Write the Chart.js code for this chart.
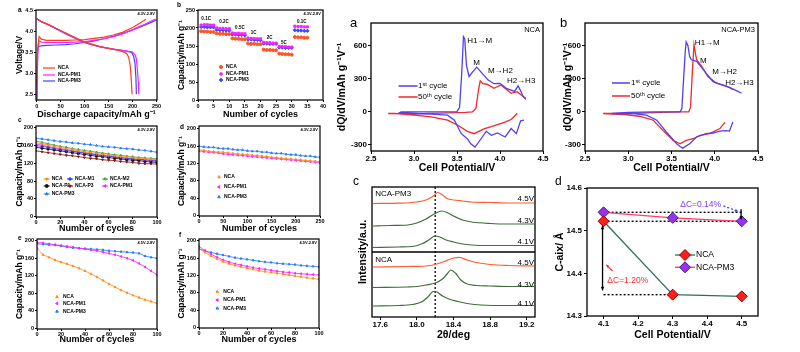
<!DOCTYPE html>
<html>
<head>
<meta charset="utf-8">
<script src="https://cdn.jsdelivr.net/npm/chart.js@4.4.0/dist/chart.umd.min.js"></script>
<style>
  body { margin: 0; background: #fff; width: 800px; height: 352px; overflow: hidden; position: relative; }
  canvas { position: absolute; }
</style>
</head>
<body>
<script>
// ---------- left a: charge / discharge curves ----------
const aCapTicks = [0, 50, 100, 150, 200, 250];
const aVoltTicks = [2.5, 3.0, 3.5, 4.0, 4.5];
const aVoltLabels = ['2.5', '3.0', '3.5', '4.0', '4.5'];
const ncaChargeCap = [0.5, 2, 5, 10, 20, 40, 60, 80, 100, 120, 140, 160, 180, 200, 215, 228];
const ncaChargeV = [2.75, 3.6, 3.88, 3.82, 3.79, 3.79, 3.79, 3.8, 3.81, 3.84, 3.87, 3.92, 3.99, 4.1, 4.2, 4.3];
const pm1ChargeCap = [0.5, 2, 5, 10, 20, 40, 60, 80, 100, 120, 140, 160, 180, 200, 220, 240, 248];
const pm1ChargeV = [2.4, 3.5, 3.78, 3.75, 3.74, 3.74, 3.74, 3.75, 3.76, 3.79, 3.83, 3.88, 3.95, 4.05, 4.15, 4.26, 4.3];
const pm3ChargeCap = [0.5, 2, 5, 10, 20, 40, 60, 80, 100, 120, 140, 160, 180, 200, 220, 240, 250];
const pm3ChargeV = [2.35, 3.6, 3.65, 3.66, 3.67, 3.68, 3.69, 3.71, 3.74, 3.78, 3.83, 3.89, 3.96, 4.04, 4.13, 4.23, 4.28];
const ncaDisCap = [0, 10, 28, 45, 62, 80, 97, 115, 131, 150, 166, 180, 188, 192, 195, 197, 199];
const ncaDisV = [4.31, 4.24, 4.15, 4.05, 3.96, 3.86, 3.77, 3.70, 3.64, 3.60, 3.56, 3.52, 3.47, 3.38, 3.2, 2.9, 2.5];
const pm1DisCap = [0, 10, 28, 45, 62, 80, 97, 115, 131, 150, 166, 185, 200, 205, 208, 210, 212, 213];
const pm1DisV = [4.31, 4.24, 4.15, 4.05, 3.95, 3.85, 3.76, 3.69, 3.64, 3.60, 3.57, 3.54, 3.51, 3.45, 3.35, 3.1, 2.8, 2.5];
const pm3DisCap = [0, 10, 28, 45, 62, 80, 97, 115, 131, 150, 166, 185, 198, 202, 205, 207, 208];
const pm3DisV = [4.31, 4.24, 4.14, 4.04, 3.94, 3.84, 3.75, 3.69, 3.64, 3.60, 3.57, 3.54, 3.5, 3.42, 3.25, 2.9, 2.5];

// ---------- left b: rate capability ----------
const rateCycles = [1,2,3,4,5,6,7,8,9,10,11,12,13,14,15,16,17,18,19,20,21,22,23,24,25,26,27,28,29,30,31,32,33,34,35];
const rateNca = [191,190,190,189,189, 185,184,184,183,183, 171,170,170,169,169, 157,156,156,155,155, 140,139,139,138,138, 129,128,127,127,126, 175,174,174,173,173];
const ratePm1 = [208,209,209,208,208, 200,199,199,198,198, 186,185,185,184,184, 172,171,171,170,170, 160,159,159,158,158, 149,148,148,147,147, 205,204,204,203,203];
const ratePm3 = [203,203,202,202,202, 195,194,194,193,193, 182,182,181,181,180, 168,168,167,167,166, 157,157,156,156,156, 146,146,145,145,145, 194,193,193,192,192];
const rateNames = ['0.1C', '0.2C', '0.5C', '1C', '2C', '5C', '0.1C'];
const rateNameX = [2.6, 8.3, 13.4, 17.8, 22.9, 27.5, 33.2];
const rateNameY = [227, 217, 201, 187, 174, 160, 217];
const bCycleTicks = [0, 5, 10, 15, 20, 25, 30, 35, 40];
const bCapTicks = [0, 50, 100, 150, 200, 250];

// ---------- left c-f: cycling ----------
const capTicks = [0, 40, 80, 120, 160, 200];
const cyc100Ticks = [0, 20, 40, 60, 80, 100];
const cyc250Ticks = [0, 50, 100, 150, 200, 250];
const cycles5 = [0,5,10,15,20,25,30,35,40,45,50,55,60,65,70,75,80,85,90,95,100];
const cycles10 = [0,10,20,30,40,50,60,70,80,90,100,110,120,130,140,150,160,170,180,190,200,210,220,230,240,250];
const cNca = [166,164,161,158,156,153,151,148,146,144,142,140,138,137,135,134,133,131,130,129,128];
const cM1 = [160,158,156,153,151,149,147,145,143,141,139,137,136,134,133,131,130,129,128,127,126];
const cM2 = [170,167,164,161,158,156,153,151,149,147,145,143,141,139,138,136,135,133,132,131,130];
const cP1 = [156,154,152,150,148,146,144,142,140,138,136,135,133,131,130,128,127,126,124,123,122];
const cP3 = [148,146,144,142,140,138,137,135,133,131,130,128,127,126,124,123,122,120,119,119,118];
const cPm1 = [163,161,158,155,153,151,148,146,144,142,140,138,136,134,133,131,129,128,127,126,124];
const cPm3 = [176,175,173,171,169,168,166,165,163,162,160,158,157,156,154,153,152,150,149,147,145];
const dNca = [151,150,148,147,146,146,144,143,142,141,140,139,138,137,136,134,133,132,131,130,129,128,127,126,125,124];
const dPm1 = [149,147,146,145,144,142,141,140,139,138,137,136,135,134,133,132,131,130,129,128,127,126,125,124,123,122];
const dPm3 = [160,158,157,157,155,154,154,152,151,151,149,148,148,146,146,144,143,143,141,140,140,138,137,137,135,134];
const eNca = [183,168,162,156,151,147,142,137,131,124,117,109,101,94,87,81,75,70,65,61,57];
const ePm1 = [196,195,193,191,189,187,185,183,181,179,177,174,171,168,164,160,155,148,140,131,122];
const ePm3 = [193,192,191,190,188,186,184,183,182,181,180,179,177,176,175,174,173,171,165,162,160];
const fNca = [182,173,165,158,152,147,143,140,137,134,131,129,127,125,123,121,119,117,115,113,111];
const fPm1 = [187,177,169,162,156,151,147,144,141,138,136,134,132,130,128,127,125,124,123,122,121];
const fPm3 = [181,177,173,170,167,164,161,159,157,155,153,151,150,148,147,146,145,143,142,141,140];

// ---------- right a/b: dQ/dV ----------
const dqTicks = [-300, 0, 300, 600];
const potTicks = [2.5, 3.0, 3.5, 4.0, 4.5];
const potLabels = ['2.5', '3.0', '3.5', '4.0', '4.5'];
const ncaFirstV = [4.28,4.24,4.19,4.13,4.06,3.97,3.90,3.84,3.78,3.71,3.66,3.62,3.55,3.47,3.39,3.20,3.00,2.83, 2.85,3.20,3.50,3.53,3.555,3.575,3.59,3.61,3.64,3.68,3.73,3.78,3.86,3.93,4.00,4.08,4.17,4.21,4.24,4.27,4.30];
const ncaFirstDq = [-76,-82,-198,-152,-228,-192,-213,-177,-244,-320,-290,-244,-198,-76,-30,-21,-15,-9, 0,0,2,40,350,680,660,420,320,360,405,360,290,255,258,210,185,235,190,137,113];
const ncaFiftiethV = [4.20,4.13,4.05,3.97,3.90,3.82,3.76,3.70,3.62,3.51,3.39,3.20,3.00,2.77,2.70, 2.70,3.00,3.30,3.60,3.68,3.72,3.75,3.77,3.80,3.85,3.93,4.01,4.08,4.13,4.20,4.25,4.30];
const ncaFiftiethDq = [-15,-70,-95,-116,-135,-152,-175,-198,-177,-122,-76,-46,-30,-15,-15, -15,-18,-12,-5,0,30,200,280,255,250,213,244,200,168,183,150,122];
const pm3FirstV = [4.21,4.17,4.12,4.06,3.98,3.90,3.79,3.71,3.63,3.60,3.56,3.44,3.33,3.21,3.06,2.81, 2.81,3.00,3.30,3.60,3.62,3.64,3.66,3.67,3.69,3.71,3.73,3.79,3.85,3.90,3.98,4.08,4.17,4.25,4.31];
const pm3FirstDq = [-91,-174,-170,-174,-192,-198,-228,-289,-329,-315,-289,-183,-76,-30,-15,-15, -15,-5,0,0,30,300,560,634,600,500,472,457,400,350,274,244,222,192,168];
const pm3FiftiethV = [4.12,4.09,4.06,3.94,3.83,3.75,3.67,3.60,3.52,3.40,3.29,3.13,2.94,2.71, 2.71,3.00,3.30,3.60,3.70,3.72,3.74,3.76,3.77,3.79,3.85,3.92,4.02,4.13,4.21];
const pm3FiftiethDq = [-97,-120,-152,-198,-213,-244,-259,-289,-259,-168,-76,-40,-24,-15, -15,-15,-8,0,0,40,350,609,560,472,411,320,259,235,204];

// ---------- right c: XRD (003) peak, stacked, arbitrary units ----------
const thetaTicks = [17.6, 18.0, 18.4, 18.8, 19.2];
const pm345X = [17.52,17.8,18.0,18.1,18.18,18.23,18.28,18.33,18.4,18.5,18.6,18.8,19.0,19.28];
const pm345Y = [113.5,113.8,115,117,121,124.5,122,118.5,117,116,115,114.5,114,114];
const pm343X = [17.52,17.7,17.9,18.0,18.1,18.2,18.27,18.33,18.4,18.5,18.6,18.8,19.0,19.28];
const pm343Y = [91,91.5,92,94,98,103.5,106,104.5,101,97,95,93.5,93,93];
const pm341X = [17.52,17.8,17.95,18.05,18.13,18.2,18.25,18.32,18.4,18.5,18.6,18.8,19.0,19.28];
const pm341Y = [69.5,70,70.5,73,77,81,80,77,75,73,72,71.5,71.5,71.5];
const nca45X = [17.52,17.9,18.1,18.2,18.3,18.4,18.46,18.55,18.65,18.8,19.0,19.28];
const nca45Y = [50,50.5,51,52.5,55.5,59,59.7,57,54.5,52.5,51.5,51];
const nca43X = [17.52,17.9,18.0,18.1,18.2,18.28,18.33,18.37,18.42,18.48,18.55,18.65,18.8,19.0,19.28];
const nca43Y = [29.5,30,30.5,32,34,38,43,47,44,37,33,31.5,31,30.5,30.5];
const nca41X = [17.52,17.8,17.95,18.05,18.12,18.18,18.22,18.28,18.35,18.45,18.55,18.7,19.0,19.28];
const nca41Y = [11,11.5,12.5,15,20,25.5,25,21,18,15.5,13.5,12,11.5,11.5];
const voltNames = ['4.5V', '4.3V', '4.1V', '4.5V', '4.3V', '4.1V'];
const voltNameY = [118, 96, 75, 54, 32, 13];

// ---------- right d: c-axis ----------
const dPot = [4.1, 4.3, 4.5];
const dPotTicks = [4.1, 4.2, 4.3, 4.4, 4.5];
const cAxisTicks = [14.3, 14.4, 14.5, 14.6];
const cAxisNca = [14.522, 14.35, 14.346];
const cAxisPm3 = [14.543, 14.530, 14.522];

// ---------- helpers ----------
const FONT = "'Liberation Sans', Arial, sans-serif";
Chart.defaults.font.family = FONT;
Chart.defaults.color = '#000';
const fnt = (w, s) => w + ' ' + s + 'px ' + FONT;
const pts = (xs, ys) => xs.map((x, i) => ({x: x, y: ys[i]}));
const str = a => a.map(v => String(v));
const fix1 = a => a.map(v => v.toFixed(1));

function series(label, xs, ys, color, extra) {
  return Object.assign({
    label: label, data: pts(xs, ys), borderColor: color, backgroundColor: color,
    pointBackgroundColor: color, pointBorderColor: color, borderWidth: 1,
    pointRadius: 0, tension: 0
  }, extra || {});
}

const notesPlugin = {
  id: 'notes',
  afterDatasetsDraw(chart, args, o) {
    const ctx = chart.ctx, a = chart.chartArea;
    const X = v => chart.scales.x.getPixelForValue(v), Y = v => chart.scales.y.getPixelForValue(v);
    ctx.save();
    ctx.strokeStyle = '#000';
    ctx.lineWidth = o.frame || 1;
    ctx.strokeRect(a.left, a.top, a.right - a.left, a.bottom - a.top);

    (o.arrows || []).forEach(ar => {
      const x1 = X(ar.x1), y1 = Y(ar.y1), x2 = X(ar.x2), y2 = Y(ar.y2);
      ctx.strokeStyle = ar.color; ctx.fillStyle = ar.color; ctx.lineWidth = ar.width || 1;
      ctx.setLineDash(ar.dash || []);
      ctx.beginPath(); ctx.moveTo(x1, y1); ctx.lineTo(x2, y2); ctx.stroke();
      ctx.setLineDash([]);
      const head = (xa, ya, xb, yb) => {
        const ang = Math.atan2(yb - ya, xb - xa), s = ar.head || 4;
        ctx.beginPath();
        ctx.moveTo(xb, yb);
        ctx.lineTo(xb - s * Math.cos(ang - 0.45), yb - s * Math.sin(ang - 0.45));
        ctx.lineTo(xb - s * Math.cos(ang + 0.45), yb - s * Math.sin(ang + 0.45));
        ctx.closePath(); ctx.fill();
      };
      head(x1, y1, x2, y2);
      if (ar.both) head(x2, y2, x1, y1);
    });

    (o.legend || []).forEach(it => {
      const ds = chart.data.datasets[it.ds];
      const x = a.left + it.x, y = a.top + it.y;
      if (it.line) {
        ctx.strokeStyle = ds.borderColor; ctx.lineWidth = it.lw || 1;
        ctx.beginPath(); ctx.moveTo(x - it.line / 2, y); ctx.lineTo(x + it.line / 2, y); ctx.stroke();
      }
      if (it.mark) {
        ctx.fillStyle = ds.pointBackgroundColor; ctx.strokeStyle = ds.pointBorderColor;
        ctx.lineWidth = ds.pointBorderWidth || 1;
        const opt = {pointStyle: ds.pointStyle || 'circle', radius: it.mark, rotation: ds.pointRotation || 0, borderWidth: ds.pointBorderWidth || 1};
        if (Chart.helpers && Chart.helpers.drawPoint) Chart.helpers.drawPoint(ctx, opt, x, y);
        else { ctx.beginPath(); ctx.arc(x, y, it.mark, 0, Math.PI * 2); ctx.fill(); }
      }
      ctx.fillStyle = '#000'; ctx.font = it.font;
      ctx.textAlign = 'left'; ctx.textBaseline = 'middle';
      ctx.fillText(ds.label, x + it.tx, y);
    });

    (o.texts || []).forEach(tx => {
      const x = tx.px ? a.left + tx.x : X(tx.x);
      const y = tx.px ? a.top + tx.y : Y(tx.y);
      ctx.fillStyle = tx.color || '#000'; ctx.font = tx.font;
      ctx.textAlign = tx.align || 'left'; ctx.textBaseline = 'middle';
      ctx.fillText(tx.t, x, y);
    });
    ctx.restore();
  }
};

function makePanel(p) {
  const [cx, cy, cw, ch] = p.canvas;
  const [l, t, r, b] = p.box;
  const cv = document.createElement('canvas');
  cv.width = cw; cv.height = ch;
  cv.style.left = cx + 'px'; cv.style.top = cy + 'px';
  document.body.appendChild(cv);
  const padL = l - cx, padB = cy + ch - b;
  const axis = (ax, horiz) => {
    const lh = ax.titleFont.size * 1.2;
    return {
      type: 'linear', min: ax.min, max: ax.max,
      afterBuildTicks: s => { s.ticks = ax.ticks.map(v => ({value: v})); },
      afterFit: s => { if (horiz) s.height = padB; else s.width = padL; },
      ticks: {
        display: !!ax.labels, autoSkip: false, maxRotation: 0, minRotation: 0,
        padding: ax.tickPad, font: ax.tickFont, color: '#000',
        callback: (v, i) => ax.labels ? ax.labels[i] : ''
      },
      grid: {display: ax.tickLen > 0, drawOnChartArea: false, tickLength: ax.tickLen, color: '#000', lineWidth: 1},
      border: {display: false},
      title: {
        display: true, text: ax.title, color: '#000', font: ax.titleFont,
        padding: horiz ? {top: 0, bottom: cy + ch - ax.titleAt - lh / 2} : {top: ax.titleAt - cx - lh / 2, bottom: 0}
      }
    };
  };
  return new Chart(cv, {
    type: 'line',
    data: {datasets: p.datasets},
    options: {
      responsive: false, animation: false, events: [],
      layout: {autoPadding: false, padding: {left: 0, top: t - cy, right: cx + cw - r, bottom: 0}},
      scales: {x: axis(p.x, true), y: axis(p.y, false)},
      plugins: {legend: {display: false}, tooltip: {enabled: false}, notes: p.notes}
    },
    plugins: [notesPlugin]
  });
}

// ---------- styles ----------
const LT = {tickLen: 2, tickFont: {size: 5.5, weight: 'bold'}};
const LXT = {size: 9, weight: 'bold'};
const LYT = {size: 8.5, weight: 'bold'};
const RT = {tickLen: 3, tickFont: {size: 8, weight: 'bold'}};
const RTT = {size: 10.5, weight: 'bold'};
const letterL = fnt('bold', 6.5), tinyL = fnt('bold', 4), legL = fnt('bold', 5);
const letterR = fnt('normal', 13), labR = fnt('normal', 8);

const red = '#ff3b1f', magenta = '#ff1eff', blue = '#2f4bff';
const orange = '#ff8a1c', skyBlue = '#2378ff';
const blueR = '#5040ee', redR = '#f0282d';
const xrdOrange = '#ff5a30', xrdGreen = '#3f6e3a';
const mk = (style, rot) => ({pointRadius: 1.2, pointStyle: style, pointRotation: rot || 0, borderWidth: 0.8});
const capT = 'Capacity/mAh g\u207B\u00B9';
const cycT = 'Number of cycles';

// ---------- left a ----------
makePanel({
  canvas: [0, 0, 168, 122], box: [36, 10, 157, 100],
  x: Object.assign({min: -1.5, max: 251, ticks: aCapTicks, labels: str(aCapTicks), title: 'Discharge capacity/mAh g\u207B\u00B9', titleAt: 115, tickPad: 1, titleFont: LXT}, LT),
  y: Object.assign({min: 2.36, max: 4.52, ticks: aVoltTicks, labels: aVoltLabels, title: 'Voltage/V', titleAt: 20, tickPad: 1, titleFont: LYT}, LT),
  datasets: [
    series('NCA', ncaChargeCap, ncaChargeV, red, {borderWidth: 1.2}),
    series('NCA', ncaDisCap, ncaDisV, red, {borderWidth: 1.2}),
    series('NCA-PM1', pm1ChargeCap, pm1ChargeV, magenta, {borderWidth: 1.2}),
    series('NCA-PM1', pm1DisCap, pm1DisV, magenta, {borderWidth: 1.2}),
    series('NCA-PM3', pm3ChargeCap, pm3ChargeV, blue, {borderWidth: 1.2}),
    series('NCA-PM3', pm3DisCap, pm3DisV, blue, {borderWidth: 1.2})
  ],
  notes: {
    frame: 1.2,
    legend: [
      {ds: 0, x: 13, y: 58, line: 12, lw: 1.2, tx: 9, font: legL},
      {ds: 2, x: 13, y: 65, line: 12, lw: 1.2, tx: 9, font: legL},
      {ds: 4, x: 13, y: 71, line: 12, lw: 1.2, tx: 9, font: legL}
    ],
    texts: [
      {t: 'a', x: -18, y: 0, px: true, font: letterL},
      {t: '4.3V-2.8V', x: 119, y: 4, px: true, font: tinyL, align: 'right'}
    ]
  }
});

// ---------- left b ----------
const rateNotes = rateNames.map((n, i) => ({t: n, x: rateNameX[i], y: rateNameY[i], font: fnt('bold', 4.5), align: 'center'}));
makePanel({
  canvas: [165, 0, 165, 122], box: [198, 10, 323, 100],
  x: Object.assign({min: 0, max: 40, ticks: bCycleTicks, labels: str(bCycleTicks), title: cycT, titleAt: 115, tickPad: 1, titleFont: LXT}, LT),
  y: Object.assign({min: 0, max: 250, ticks: bCapTicks, labels: str(bCapTicks), title: capT, titleAt: 181.7, tickPad: 1, titleFont: LYT}, LT),
  datasets: [
    series('NCA', rateCycles, rateNca, '#ff5522', {showLine: false, pointRadius: 1.5, pointStyle: 'circle'}),
    series('NCA-PM1', rateCycles, ratePm1, magenta, {showLine: false, pointRadius: 1.5, pointStyle: 'rect'}),
    series('NCA-PM3', rateCycles, ratePm3, blue, {showLine: false, pointRadius: 1.7, pointStyle: 'rectRot'})
  ],
  notes: {
    frame: 1.2,
    legend: [
      {ds: 0, x: 23, y: 57, mark: 1.6, tx: 5, font: legL},
      {ds: 1, x: 23, y: 64, mark: 1.6, tx: 5, font: legL},
      {ds: 2, x: 23, y: 70, mark: 1.8, tx: 5, font: legL}
    ],
    texts: [
      {t: 'b', x: -21, y: -5, px: true, font: letterL},
      {t: '4.3V-2.8V', x: 123, y: 4, px: true, font: tinyL, align: 'right'}
    ].concat(rateNotes)
  }
});

// ---------- left c ----------
makePanel({
  canvas: [0, 116, 168, 120], box: [36, 126, 157, 217],
  x: Object.assign({min: 0, max: 100, ticks: cyc100Ticks, labels: str(cyc100Ticks), title: cycT, titleAt: 229, tickPad: 0, titleFont: LXT}, LT),
  y: Object.assign({min: -1, max: 204, ticks: capTicks, labels: str(capTicks), title: capT, titleAt: 20, tickPad: 1, titleFont: LYT}, LT),
  datasets: [
    series('NCA-PM3', cycles5, cPm3, skyBlue, mk('triangle')),
    series('NCA', cycles5, cNca, '#ff8c00', mk('triangle', 180)),
    series('NCA-M1', cycles5, cM1, '#3c2cff', mk('rectRot')),
    series('NCA-M2', cycles5, cM2, '#3da33d', mk('triangle')),
    series('NCA-P1', cycles5, cP1, '#111111', mk('circle')),
    series('NCA-P3', cycles5, cP3, '#8b1010', mk('triangle', 180)),
    series('NCA-PM1', cycles5, cPm1, magenta, mk('triangle', 270))
  ],
  notes: {
    frame: 1.2,
    legend: [
      {ds: 1, x: 10.7, y: 53, line: 6, mark: 1.5, tx: 5, font: legL},
      {ds: 2, x: 34, y: 53, line: 6, mark: 1.5, tx: 5, font: legL},
      {ds: 3, x: 69, y: 53, line: 6, mark: 1.5, tx: 5, font: legL},
      {ds: 4, x: 10.7, y: 60, line: 6, mark: 1.5, tx: 5, font: legL},
      {ds: 5, x: 34, y: 60, line: 6, mark: 1.5, tx: 5, font: legL},
      {ds: 6, x: 69, y: 60, line: 6, mark: 1.5, tx: 5, font: legL},
      {ds: 0, x: 10.7, y: 68, line: 6, mark: 1.5, tx: 5, font: legL}
    ],
    texts: [
      {t: 'c', x: -18, y: -6, px: true, font: letterL},
      {t: '4.3V-2.8V', x: 119, y: 4, px: true, font: tinyL, align: 'right'}
    ]
  }
});

// ---------- left d ----------
makePanel({
  canvas: [165, 116, 165, 120], box: [199, 126, 320, 216],
  x: Object.assign({min: 0, max: 250, ticks: cyc250Ticks, labels: str(cyc250Ticks), title: cycT, titleAt: 229, tickPad: 0, titleFont: LXT}, LT),
  y: Object.assign({min: -1, max: 206, ticks: capTicks, labels: str(capTicks), title: capT, titleAt: 181.7, tickPad: 1, titleFont: LYT}, LT),
  datasets: [
    series('NCA', cycles10, dNca, orange, mk('triangle')),
    series('NCA-PM1', cycles10, dPm1, magenta, mk('triangle', 270)),
    series('NCA-PM3', cycles10, dPm3, skyBlue, mk('triangle'))
  ],
  notes: {
    frame: 1.2,
    legend: [
      {ds: 0, x: 20, y: 51, mark: 1.5, tx: 5, font: legL},
      {ds: 1, x: 20, y: 61, mark: 1.5, tx: 5, font: legL},
      {ds: 2, x: 20, y: 71, mark: 1.5, tx: 5, font: legL}
    ],
    texts: [
      {t: 'd', x: -19, y: 1, px: true, font: letterL},
      {t: '4.3V-2.8V', x: 119, y: 4, px: true, font: tinyL, align: 'right'}
    ]
  }
});

// ---------- left e ----------
makePanel({
  canvas: [0, 232, 168, 120], box: [37, 239, 157, 329],
  x: Object.assign({min: 0, max: 100, ticks: cyc100Ticks, labels: str(cyc100Ticks), title: cycT, titleAt: 340, tickPad: 0, titleFont: LXT}, LT),
  y: Object.assign({min: -2, max: 204, ticks: capTicks, labels: str(capTicks), title: capT, titleAt: 20, tickPad: 1, titleFont: LYT}, LT),
  datasets: [
    series('NCA', cycles5, eNca, orange, mk('triangle')),
    series('NCA-PM1', cycles5, ePm1, magenta, mk('triangle', 270)),
    series('NCA-PM3', cycles5, ePm3, skyBlue, mk('triangle'))
  ],
  notes: {
    frame: 1.2,
    legend: [
      {ds: 0, x: 20, y: 58, mark: 1.5, tx: 6, font: legL},
      {ds: 1, x: 20, y: 64.5, mark: 1.5, tx: 6, font: legL},
      {ds: 2, x: 20, y: 72.5, mark: 1.5, tx: 6, font: legL}
    ],
    texts: [
      {t: 'e', x: -19, y: -1, px: true, font: letterL},
      {t: '4.5V-2.8V', x: 118, y: 4, px: true, font: tinyL, align: 'right'}
    ]
  }
});

// ---------- left f ----------
makePanel({
  canvas: [165, 232, 165, 120], box: [199, 239, 319, 328],
  x: Object.assign({min: 0, max: 100, ticks: cyc100Ticks, labels: str(cyc100Ticks), title: cycT, titleAt: 340, tickPad: 0, titleFont: LXT}, LT),
  y: Object.assign({min: -1, max: 204, ticks: capTicks, labels: str(capTicks), title: capT, titleAt: 181.7, tickPad: 1, titleFont: LYT}, LT),
  datasets: [
    series('NCA', cycles5, fNca, orange, mk('triangle')),
    series('NCA-PM1', cycles5, fPm1, magenta, mk('triangle', 270)),
    series('NCA-PM3', cycles5, fPm3, skyBlue, mk('triangle'))
  ],
  notes: {
    frame: 1.2,
    legend: [
      {ds: 0, x: 18.3, y: 52.7, mark: 1.5, tx: 6, font: legL},
      {ds: 1, x: 18.3, y: 61, mark: 1.5, tx: 6, font: legL},
      {ds: 2, x: 18.3, y: 69.3, mark: 1.5, tx: 6, font: legL}
    ],
    texts: [
      {t: 'f', x: -20, y: -4, px: true, font: letterL},
      {t: '4.5V-2.8V', x: 118, y: 4, px: true, font: tinyL, align: 'right'}
    ]
  }
});

// ---------- right a ----------
const dqT = 'dQ/dV/mAh g\u207B\u00B9V\u207B\u00B9';
makePanel({
  canvas: [335, 5, 215, 175], box: [371, 23, 543, 151],
  x: Object.assign({min: 2.5, max: 4.5, ticks: potTicks, labels: potLabels, title: 'Cell Potential/V', titleAt: 168, tickPad: 0, titleFont: RTT}, RT),
  y: Object.assign({min: -355, max: 805, ticks: dqTicks, labels: str(dqTicks), title: dqT, titleAt: 342, tickPad: 1, titleFont: RTT}, RT),
  datasets: [
    series('1\u02E2\u1D57 cycle', ncaFirstV, ncaFirstDq, blueR, {borderWidth: 1.3}),
    series('50\u1D57\u02B0 cycle', ncaFiftiethV, ncaFiftiethDq, redR, {borderWidth: 1.3})
  ],
  notes: {
    frame: 1.3,
    legend: [
      {ds: 0, x: 37, y: 63, line: 19, lw: 1.5, tx: 10, font: labR},
      {ds: 1, x: 37, y: 74, line: 19, lw: 1.5, tx: 10, font: labR}
    ],
    texts: [
      {t: 'a', x: -21, y: 0, px: true, font: letterR},
      {t: 'NCA', x: 169, y: 7, px: true, font: fnt('normal', 7.5), align: 'right'},
      {t: 'H1\u2192M', x: 3.62, y: 643, font: labR},
      {t: 'M', x: 3.69, y: 443, font: labR},
      {t: 'M\u2192H2', x: 3.86, y: 370, font: labR},
      {t: 'H2\u2192H3', x: 4.08, y: 279, font: labR}
    ]
  }
});

// ---------- right b ----------
makePanel({
  canvas: [548, 5, 230, 175], box: [585, 23, 758, 151],
  x: Object.assign({min: 2.5, max: 4.5, ticks: potTicks, labels: potLabels, title: 'Cell Potential/V', titleAt: 168, tickPad: 0, titleFont: RTT}, RT),
  y: Object.assign({min: -355, max: 805, ticks: dqTicks, labels: str(dqTicks), title: dqT, titleAt: 568, tickPad: 1, titleFont: RTT}, RT),
  datasets: [
    series('1\u02E2\u1D57 cycle', pm3FirstV, pm3FirstDq, blueR, {borderWidth: 1.3}),
    series('50\u1D57\u02B0 cycle', pm3FiftiethV, pm3FiftiethDq, redR, {borderWidth: 1.3})
  ],
  notes: {
    frame: 1.3,
    legend: [
      {ds: 0, x: 36, y: 60, line: 18, lw: 1.5, tx: 10, font: labR},
      {ds: 1, x: 36, y: 73, line: 18, lw: 1.5, tx: 10, font: labR}
    ],
    texts: [
      {t: 'b', x: -25, y: 0, px: true, font: letterR},
      {t: 'NCA-PM3', x: 170, y: 7, px: true, font: fnt('normal', 7.5), align: 'right'},
      {t: 'H1\u2192M', x: 3.77, y: 624, font: labR},
      {t: 'M', x: 3.83, y: 461, font: labR},
      {t: 'M\u2192H2', x: 3.97, y: 361, font: labR},
      {t: 'H2\u2192H3', x: 4.12, y: 261, font: labR}
    ]
  }
});

// ---------- right c ----------
const voltNotes = voltNames.map((n, i) => ({t: n, x: 19.1, y: voltNameY[i], font: labR}));
const xrdLine = (c) => ({borderWidth: 1.2, cubicInterpolationMode: 'monotone'});
makePanel({
  canvas: [335, 172, 215, 180], box: [372, 187, 535, 317],
  x: Object.assign({min: 17.51, max: 19.29, ticks: thetaTicks, labels: fix1(thetaTicks), title: '2\u03B8/deg', titleAt: 335, tickPad: 0, titleFont: RTT}, RT),
  y: {min: 0, max: 130, ticks: [], labels: null, tickLen: 0, tickPad: 0, tickFont: {size: 8}, title: 'Intensity/a.u.', titleAt: 363, titleFont: RTT},
  datasets: [
    series('NCA-PM3 4.5V', pm345X, pm345Y, xrdOrange, xrdLine()),
    series('NCA-PM3 4.3V', pm343X, pm343Y, xrdGreen, xrdLine()),
    series('NCA-PM3 4.1V', pm341X, pm341Y, xrdGreen, xrdLine()),
    series('NCA 4.5V', nca45X, nca45Y, xrdOrange, xrdLine()),
    series('NCA 4.3V', nca43X, nca43Y, xrdGreen, xrdLine()),
    series('NCA 4.1V', nca41X, nca41Y, xrdGreen, xrdLine()),
    series('divider', [17.51, 19.29], [65, 65], '#000', {borderWidth: 1.3}),
    series('reference', [18.2, 18.2], [0, 130], '#000', {borderWidth: 1.3, borderDash: [2, 2]})
  ],
  notes: {
    frame: 1.3,
    texts: [
      {t: 'c', x: -19, y: -5, px: true, font: fnt('normal', 12)},
      {t: 'NCA-PM3', x: 17.545, y: 123, font: labR},
      {t: 'NCA', x: 17.545, y: 57, font: labR}
    ].concat(voltNotes)
  }
});

// ---------- right d ----------
const dotted = (xs, ys) => series('', xs, ys, '#000', {borderWidth: 1.4, borderDash: [2, 2]});
makePanel({
  canvas: [548, 172, 230, 180], box: [587, 188, 758, 316],
  x: Object.assign({min: 4.052, max: 4.547, ticks: dPotTicks, labels: fix1(dPotTicks), title: 'Cell Potential/V', titleAt: 335, tickPad: 0, titleFont: RTT}, RT),
  y: Object.assign({min: 14.3, max: 14.6, ticks: cAxisTicks, labels: fix1(cAxisTicks), title: 'C-aix/ \u00C5', titleAt: 560, tickPad: 2, titleFont: RTT}, RT),
  datasets: [
    series('NCA', dPot, cAxisNca, '#2f6e5e', {borderWidth: 1.3, pointRadius: 5.5, pointStyle: 'rectRot', pointBackgroundColor: '#ff1e1e', pointBorderColor: '#8b0000', pointBorderWidth: 1}),
    series('NCA-PM3', dPot, cAxisPm3, '#ff3c64', {borderWidth: 1.3, pointRadius: 5.5, pointStyle: 'rectRot', pointBackgroundColor: '#9932f0', pointBorderColor: '#4b1a80', pointBorderWidth: 1}),
    dotted([4.1, 4.5], [14.543, 14.543]),
    dotted([4.1, 4.5], [14.522, 14.522]),
    dotted([4.1, 4.3], [14.35, 14.35])
  ],
  notes: {
    frame: 1.3,
    arrows: [
      {x1: 4.097, y1: 14.36, x2: 4.097, y2: 14.512, both: true, color: '#000', width: 1.3, head: 4},
      {x1: 4.498, y1: 14.55, x2: 4.498, y2: 14.527, color: '#000', width: 1.3, head: 3.5},
      {x1: 4.447, y1: 14.558, x2: 4.49, y2: 14.545, color: '#3a3aff', width: 1.2, dash: [2, 2], head: 3.5},
      {x1: 4.126, y1: 14.405, x2: 4.108, y2: 14.42, color: '#ff2020', width: 1.2, head: 3}
    ],
    legend: [
      {ds: 0, x: 98, y: 67, line: 20, lw: 1.3, mark: 5.5, tx: 11, font: fnt('normal', 8.5)},
      {ds: 1, x: 98, y: 79.3, line: 20, lw: 1.3, mark: 5.5, tx: 11, font: fnt('normal', 8.5)}
    ],
    texts: [
      {t: 'd', x: -32, y: -6, px: true, font: fnt('normal', 12)},
      {t: '\u0394C=0.14%', x: 4.381, y: 14.56, font: fnt('normal', 8.5), color: '#7b3cff', align: 'center'},
      {t: '\u0394C=1.20%', x: 4.17, y: 14.384, font: fnt('normal', 8.5), color: '#ff2a2a', align: 'center'}
    ]
  }
});
</script>
</body>
</html>
